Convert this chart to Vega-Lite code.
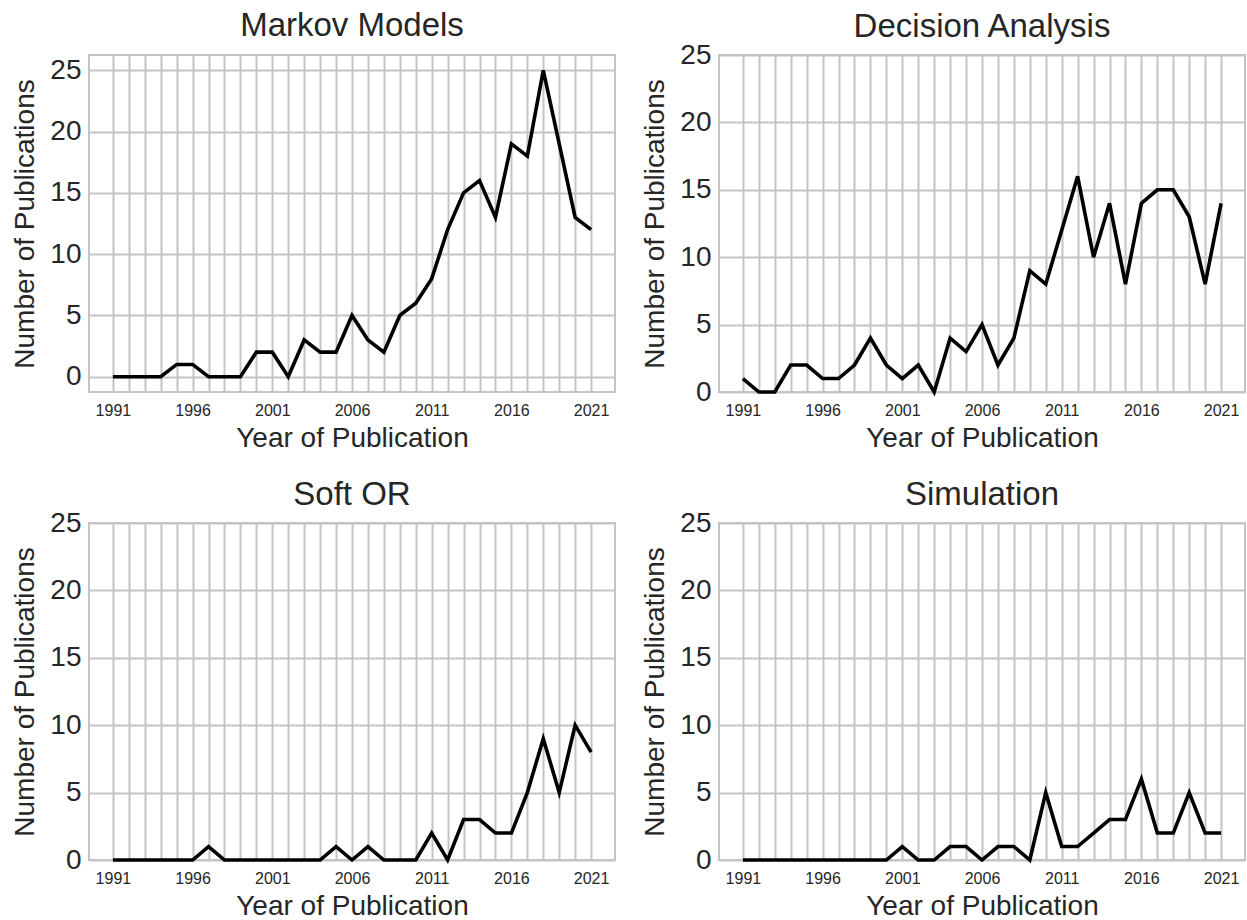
{
  "$schema": "https://vega.github.io/schema/vega-lite/v6.json",
  "background": "white",
  "padding": {"left": 10, "top": 9, "right": 0, "bottom": 0},
  "config": {
    "font": "Liberation Sans",
    "view": {"stroke": "#c4c4c4", "strokeWidth": 2},
    "axis": {"gridColor": "#c4c4c4", "gridWidth": 2, "domain": false, "ticks": false, "tickSize": 0, "labelColor": "#262626", "titleColor": "#262626", "titleFontWeight": "normal", "titleFont": "Liberation Sans", "labelFont": "Liberation Sans"},
    "title": {"fontSize": 33, "fontWeight": "normal", "color": "#262626", "font": "Liberation Sans", "frame": "group", "baseline": "alphabetic"}
  },
  "data": {"values": [
    {"panel":"Markov Models","year":1991,"count":0},{"panel":"Markov Models","year":1992,"count":0},{"panel":"Markov Models","year":1993,"count":0},{"panel":"Markov Models","year":1994,"count":0},{"panel":"Markov Models","year":1995,"count":1},{"panel":"Markov Models","year":1996,"count":1},{"panel":"Markov Models","year":1997,"count":0},{"panel":"Markov Models","year":1998,"count":0},{"panel":"Markov Models","year":1999,"count":0},{"panel":"Markov Models","year":2000,"count":2},{"panel":"Markov Models","year":2001,"count":2},{"panel":"Markov Models","year":2002,"count":0},{"panel":"Markov Models","year":2003,"count":3},{"panel":"Markov Models","year":2004,"count":2},{"panel":"Markov Models","year":2005,"count":2},{"panel":"Markov Models","year":2006,"count":5},{"panel":"Markov Models","year":2007,"count":3},{"panel":"Markov Models","year":2008,"count":2},{"panel":"Markov Models","year":2009,"count":5},{"panel":"Markov Models","year":2010,"count":6},{"panel":"Markov Models","year":2011,"count":8},{"panel":"Markov Models","year":2012,"count":12},{"panel":"Markov Models","year":2013,"count":15},{"panel":"Markov Models","year":2014,"count":16},{"panel":"Markov Models","year":2015,"count":13},{"panel":"Markov Models","year":2016,"count":19},{"panel":"Markov Models","year":2017,"count":18},{"panel":"Markov Models","year":2018,"count":25},{"panel":"Markov Models","year":2019,"count":19},{"panel":"Markov Models","year":2020,"count":13},{"panel":"Markov Models","year":2021,"count":12},
    {"panel":"Decision Analysis","year":1991,"count":1},{"panel":"Decision Analysis","year":1992,"count":0},{"panel":"Decision Analysis","year":1993,"count":0},{"panel":"Decision Analysis","year":1994,"count":2},{"panel":"Decision Analysis","year":1995,"count":2},{"panel":"Decision Analysis","year":1996,"count":1},{"panel":"Decision Analysis","year":1997,"count":1},{"panel":"Decision Analysis","year":1998,"count":2},{"panel":"Decision Analysis","year":1999,"count":4},{"panel":"Decision Analysis","year":2000,"count":2},{"panel":"Decision Analysis","year":2001,"count":1},{"panel":"Decision Analysis","year":2002,"count":2},{"panel":"Decision Analysis","year":2003,"count":0},{"panel":"Decision Analysis","year":2004,"count":4},{"panel":"Decision Analysis","year":2005,"count":3},{"panel":"Decision Analysis","year":2006,"count":5},{"panel":"Decision Analysis","year":2007,"count":2},{"panel":"Decision Analysis","year":2008,"count":4},{"panel":"Decision Analysis","year":2009,"count":9},{"panel":"Decision Analysis","year":2010,"count":8},{"panel":"Decision Analysis","year":2011,"count":12},{"panel":"Decision Analysis","year":2012,"count":16},{"panel":"Decision Analysis","year":2013,"count":10},{"panel":"Decision Analysis","year":2014,"count":14},{"panel":"Decision Analysis","year":2015,"count":8},{"panel":"Decision Analysis","year":2016,"count":14},{"panel":"Decision Analysis","year":2017,"count":15},{"panel":"Decision Analysis","year":2018,"count":15},{"panel":"Decision Analysis","year":2019,"count":13},{"panel":"Decision Analysis","year":2020,"count":8},{"panel":"Decision Analysis","year":2021,"count":14},
    {"panel":"Soft OR","year":1991,"count":0},{"panel":"Soft OR","year":1992,"count":0},{"panel":"Soft OR","year":1993,"count":0},{"panel":"Soft OR","year":1994,"count":0},{"panel":"Soft OR","year":1995,"count":0},{"panel":"Soft OR","year":1996,"count":0},{"panel":"Soft OR","year":1997,"count":1},{"panel":"Soft OR","year":1998,"count":0},{"panel":"Soft OR","year":1999,"count":0},{"panel":"Soft OR","year":2000,"count":0},{"panel":"Soft OR","year":2001,"count":0},{"panel":"Soft OR","year":2002,"count":0},{"panel":"Soft OR","year":2003,"count":0},{"panel":"Soft OR","year":2004,"count":0},{"panel":"Soft OR","year":2005,"count":1},{"panel":"Soft OR","year":2006,"count":0},{"panel":"Soft OR","year":2007,"count":1},{"panel":"Soft OR","year":2008,"count":0},{"panel":"Soft OR","year":2009,"count":0},{"panel":"Soft OR","year":2010,"count":0},{"panel":"Soft OR","year":2011,"count":2},{"panel":"Soft OR","year":2012,"count":0},{"panel":"Soft OR","year":2013,"count":3},{"panel":"Soft OR","year":2014,"count":3},{"panel":"Soft OR","year":2015,"count":2},{"panel":"Soft OR","year":2016,"count":2},{"panel":"Soft OR","year":2017,"count":5},{"panel":"Soft OR","year":2018,"count":9},{"panel":"Soft OR","year":2019,"count":5},{"panel":"Soft OR","year":2020,"count":10},{"panel":"Soft OR","year":2021,"count":8},
    {"panel":"Simulation","year":1991,"count":0},{"panel":"Simulation","year":1992,"count":0},{"panel":"Simulation","year":1993,"count":0},{"panel":"Simulation","year":1994,"count":0},{"panel":"Simulation","year":1995,"count":0},{"panel":"Simulation","year":1996,"count":0},{"panel":"Simulation","year":1997,"count":0},{"panel":"Simulation","year":1998,"count":0},{"panel":"Simulation","year":1999,"count":0},{"panel":"Simulation","year":2000,"count":0},{"panel":"Simulation","year":2001,"count":1},{"panel":"Simulation","year":2002,"count":0},{"panel":"Simulation","year":2003,"count":0},{"panel":"Simulation","year":2004,"count":1},{"panel":"Simulation","year":2005,"count":1},{"panel":"Simulation","year":2006,"count":0},{"panel":"Simulation","year":2007,"count":1},{"panel":"Simulation","year":2008,"count":1},{"panel":"Simulation","year":2009,"count":0},{"panel":"Simulation","year":2010,"count":5},{"panel":"Simulation","year":2011,"count":1},{"panel":"Simulation","year":2012,"count":1},{"panel":"Simulation","year":2013,"count":2},{"panel":"Simulation","year":2014,"count":3},{"panel":"Simulation","year":2015,"count":3},{"panel":"Simulation","year":2016,"count":6},{"panel":"Simulation","year":2017,"count":2},{"panel":"Simulation","year":2018,"count":2},{"panel":"Simulation","year":2019,"count":5},{"panel":"Simulation","year":2020,"count":2},{"panel":"Simulation","year":2021,"count":2}
  ]},
  "columns": 2,
  "bounds": "flush",
  "spacing": {"row": 131, "column": 104},
  "concat": [
    {
      "title": {"text": "Markov Models", "offset": 12},
      "width": 526, "height": 337,
      "transform": [{"filter": "datum.panel === 'Markov Models'"}],
      "mark": {"type": "line", "color": "black", "strokeWidth": 3.6, "strokeJoin": "miter"},
      "encoding": {
        "x": {"field": "year", "type": "quantitative", "scale": {"domain": [1989.5, 2022.5], "nice": false, "zero": false},
              "axis": {"title": "Year of Publication", "titleFontSize": 28, "titlePadding": 6, "labelFontSize": 16, "labelPadding": 10, "labelOverlap": false, "labelFlush": false, "labelBound": false,
                       "values": [1991,1992,1993,1994,1995,1996,1997,1998,1999,2000,2001,2002,2003,2004,2005,2006,2007,2008,2009,2010,2011,2012,2013,2014,2015,2016,2017,2018,2019,2020,2021],
                       "labelExpr": "datum.value % 5 === 1 ? toString(datum.value) : ''"}},
        "y": {"field": "count", "type": "quantitative", "scale": {"domain": [-1.25, 26.25], "nice": false, "zero": false},
              "axis": {"title": "Number of Publications", "titleFontSize": 28, "titlePadding": 10, "labelFontSize": 28, "labelPadding": 8, "values": [0,5,10,15,20,25], "labelFlush": false, "labelBound": false}}
      }
    },
    {
      "title": {"text": "Decision Analysis", "offset": -3},
      "width": 526, "height": 337,
      "transform": [{"filter": "datum.panel === 'Decision Analysis'"}],
      "mark": {"type": "line", "color": "black", "strokeWidth": 3.6, "strokeJoin": "miter"},
      "encoding": {
        "x": {"field": "year", "type": "quantitative", "scale": {"domain": [1989.5, 2022.5], "nice": false, "zero": false},
              "axis": {"title": "Year of Publication", "titleFontSize": 28, "titlePadding": 6, "labelFontSize": 16, "labelPadding": 10, "labelOverlap": false, "labelFlush": false, "labelBound": false,
                       "values": [1991,1992,1993,1994,1995,1996,1997,1998,1999,2000,2001,2002,2003,2004,2005,2006,2007,2008,2009,2010,2011,2012,2013,2014,2015,2016,2017,2018,2019,2020,2021],
                       "labelExpr": "datum.value % 5 === 1 ? toString(datum.value) : ''"}},
        "y": {"field": "count", "type": "quantitative", "scale": {"domain": [0, 25], "nice": false, "zero": false},
              "axis": {"title": "Number of Publications", "titleFontSize": 28, "titlePadding": 10, "labelFontSize": 28, "labelPadding": 8, "values": [0,5,10,15,20,25], "labelFlush": false, "labelBound": false}}
      }
    },
    {
      "title": {"text": "Soft OR", "offset": -3},
      "width": 526, "height": 337,
      "transform": [{"filter": "datum.panel === 'Soft OR'"}],
      "mark": {"type": "line", "color": "black", "strokeWidth": 3.6, "strokeJoin": "miter"},
      "encoding": {
        "x": {"field": "year", "type": "quantitative", "scale": {"domain": [1989.5, 2022.5], "nice": false, "zero": false},
              "axis": {"title": "Year of Publication", "titleFontSize": 28, "titlePadding": 6, "labelFontSize": 16, "labelPadding": 10, "labelOverlap": false, "labelFlush": false, "labelBound": false,
                       "values": [1991,1992,1993,1994,1995,1996,1997,1998,1999,2000,2001,2002,2003,2004,2005,2006,2007,2008,2009,2010,2011,2012,2013,2014,2015,2016,2017,2018,2019,2020,2021],
                       "labelExpr": "datum.value % 5 === 1 ? toString(datum.value) : ''"}},
        "y": {"field": "count", "type": "quantitative", "scale": {"domain": [0, 25], "nice": false, "zero": false},
              "axis": {"title": "Number of Publications", "titleFontSize": 28, "titlePadding": 10, "labelFontSize": 28, "labelPadding": 8, "values": [0,5,10,15,20,25], "labelFlush": false, "labelBound": false}}
      }
    },
    {
      "title": {"text": "Simulation", "offset": -3},
      "width": 526, "height": 337,
      "transform": [{"filter": "datum.panel === 'Simulation'"}],
      "mark": {"type": "line", "color": "black", "strokeWidth": 3.6, "strokeJoin": "miter"},
      "encoding": {
        "x": {"field": "year", "type": "quantitative", "scale": {"domain": [1989.5, 2022.5], "nice": false, "zero": false},
              "axis": {"title": "Year of Publication", "titleFontSize": 28, "titlePadding": 6, "labelFontSize": 16, "labelPadding": 10, "labelOverlap": false, "labelFlush": false, "labelBound": false,
                       "values": [1991,1992,1993,1994,1995,1996,1997,1998,1999,2000,2001,2002,2003,2004,2005,2006,2007,2008,2009,2010,2011,2012,2013,2014,2015,2016,2017,2018,2019,2020,2021],
                       "labelExpr": "datum.value % 5 === 1 ? toString(datum.value) : ''"}},
        "y": {"field": "count", "type": "quantitative", "scale": {"domain": [0, 25], "nice": false, "zero": false},
              "axis": {"title": "Number of Publications", "titleFontSize": 28, "titlePadding": 10, "labelFontSize": 28, "labelPadding": 8, "values": [0,5,10,15,20,25], "labelFlush": false, "labelBound": false}}
      }
    }
  ]
}
